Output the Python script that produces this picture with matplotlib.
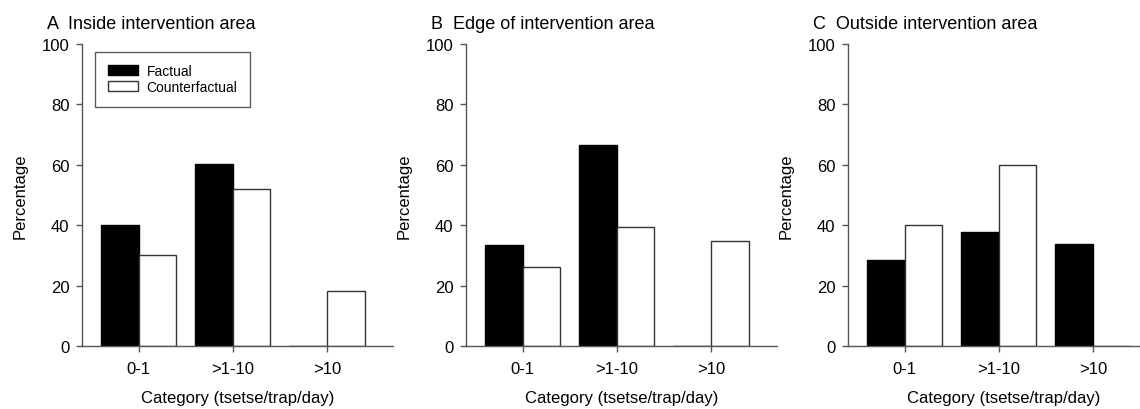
import numpy as np
import matplotlib.pyplot as plt

plt.rcParams['font.family'] = ['Liberation Sans', 'DejaVu Sans']

categories = ['0-1', '>1-10', '>10']
panel_titles = ['A  Inside intervention area',
                'B  Edge of intervention area',
                'C  Outside intervention area']
factual = [
    [40.0, 60.1, 0.0],
    [33.5, 66.6, 0.0],
    [28.6, 37.9, 33.8],
]
counterfactual = [
    [30.0, 52.0, 18.1],
    [26.1, 39.3, 34.7],
    [40.1, 59.9, 0.0],
]
y_ticks = [0, 20, 40, 60, 80, 100]

W, H = 1140, 410
fig = plt.figure(figsize=(W / 100, H / 100), dpi=100)

ax_left_px = [82, 466, 848]
ax_bottom_px = 347
ax_top_px = 45
ax_width_px = 311
bar_w = 0.4
x = np.arange(len(categories))

for i in range(3):
    left = ax_left_px[i] / W
    ax = fig.add_axes([left, 1 - ax_bottom_px / H, ax_width_px / W,
                       (ax_bottom_px - ax_top_px) / H])
    ax.bar(x - bar_w / 2, factual[i], width=bar_w, color='black',
           edgecolor='black', linewidth=1, label='Factual')
    ax.bar(x + bar_w / 2, counterfactual[i], width=bar_w, color='white',
           edgecolor='#333333', linewidth=1, label='Counterfactual')
    ax.set_xlim(-0.6, 2.7)
    ax.set_ylim(0, 100)
    ax.set_xticks(x)
    ax.set_xticklabels(categories)
    ax.set_yticks(y_ticks)
    for s in ['top', 'right']:
        ax.spines[s].set_visible(False)
    for s in ['left', 'bottom']:
        ax.spines[s].set_color('#555555')
        ax.spines[s].set_linewidth(1)
    ax.tick_params(direction='out', length=4, width=1, color='#555555',
                   labelsize=12, pad=5)
    ax.tick_params(axis='x', pad=7)
    ax.set_ylabel('Percentage', fontsize=12, labelpad=10)
    ax.set_xlabel('Category (tsetse/trap/day)', fontsize=12, labelpad=10)
    ax.text(-35 / ax_width_px, 1.04, panel_titles[i], transform=ax.transAxes,
            fontsize=13, ha='left', va='bottom')
    if i == 0:
        leg = ax.legend(loc='upper left', bbox_to_anchor=(0.042, 0.975),
                        fontsize=10, frameon=True, fancybox=False,
                        edgecolor='#333333', handlelength=2.2,
                        handleheight=0.75, borderpad=0.9, labelspacing=0.15,
                        handletextpad=0.6, borderaxespad=0)
        leg.get_frame().set_linewidth(1)

fig.savefig('out.png', dpi=100)
